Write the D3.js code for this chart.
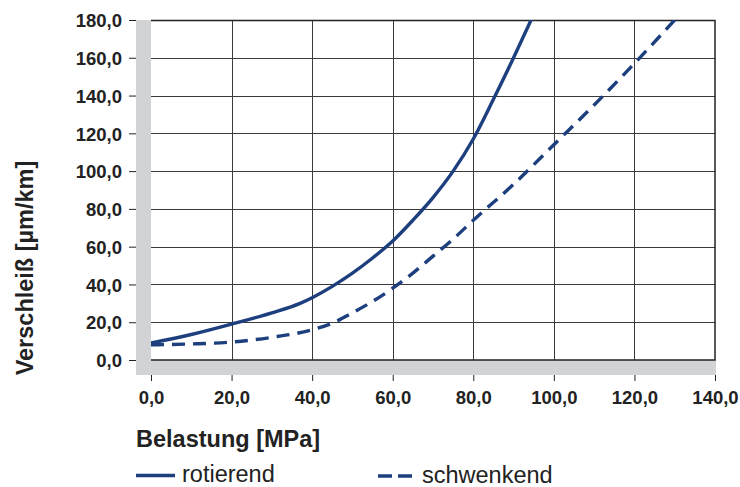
<!DOCTYPE html>
<html>
<head>
<meta charset="utf-8">
<script src="https://cdn.jsdelivr.net/npm/d3@7"></script>
<style>
  body { margin: 0; background: #fff; }
  text { font-family: "Liberation Sans", Arial, sans-serif; fill: #222; }
</style>
</head>
<body>
<div id="chart"></div>
<script>
///data
var xTicks = [0, 20, 40, 60, 80, 100, 120, 140];
var yTicks = [0, 20, 40, 60, 80, 100, 120, 140, 160, 180];

var rotLoad = [0, 10, 20, 30, 37, 40, 45, 50, 55, 60, 65, 70, 75, 80, 85, 90, 95];
var rotWear = [9, 13.5, 19, 25, 30, 33, 39, 46, 54, 63, 74, 86, 100, 117, 138, 160, 183];

var swLoad = [0, 10, 20, 30, 40, 45, 50, 55, 60, 65, 70, 75, 80, 90, 100, 110, 120, 130];
var swWear = [8, 8.5, 9.5, 12, 16, 19.5, 25, 31, 38, 46, 55, 64, 74, 93, 114, 135, 157, 180];

///sizes
var width = 740, height = 487;
var pLeft = 151, pRight = 715, pTop = 20, pBottom = 360, band = 15;
var navy = '#1d3f7e';

var x = d3.scaleLinear().domain([0, 140]).range([pLeft, pRight]);
var y = d3.scaleLinear().domain([0, 180]).range([pBottom, pTop]);

var svg = d3.select('#chart').append('svg')
    .attr('width', width)
    .attr('height', height);

svg.append('clipPath').attr('id', 'plotClip')
  .append('rect')
    .attr('x', pLeft).attr('y', pTop)
    .attr('width', pRight - pLeft).attr('height', pBottom - pTop);

///gray L band
svg.append('rect')
    .attr('x', pLeft - band).attr('y', pTop)
    .attr('width', band).attr('height', pBottom - pTop + band)
    .attr('fill', '#d2d3d5');
svg.append('rect')
    .attr('x', pLeft - band).attr('y', pBottom)
    .attr('width', pRight - pLeft + band + 1).attr('height', band)
    .attr('fill', '#d2d3d5');

///grid
svg.append('g').selectAll('line')
  .data(xTicks.slice(1, -1))
  .join('line')
    .attr('x1', d => Math.round(x(d)) + 0.5).attr('x2', d => Math.round(x(d)) + 0.5)
    .attr('y1', pTop).attr('y2', pBottom)
    .attr('stroke', '#3a3a3a').attr('stroke-width', 1);

svg.append('g').selectAll('line')
  .data(yTicks.slice(1))
  .join('line')
    .attr('x1', pLeft).attr('x2', pRight)
    .attr('y1', d => Math.round(y(d)) + 0.5).attr('y2', d => Math.round(y(d)) + 0.5)
    .attr('stroke', '#3a3a3a').attr('stroke-width', 1);

///frame: top, right, bottom
svg.append('path')
    .attr('d', `M${pLeft},${pTop + 0.5}H${pRight}V${pBottom}H${pLeft}`)
    .attr('fill', 'none')
    .attr('stroke', '#222').attr('stroke-width', 1.5);

///axes
var fmt = d => d3.format('.1f')(d).replace('.', ',');

var xAxis = svg.append('g')
    .attr('transform', `translate(0,${pBottom + band})`)
    .call(d3.axisBottom(x).tickValues(xTicks).tickFormat(fmt).tickSize(6).tickPadding(12));
xAxis.select('.domain').remove();

var yAxis = svg.append('g')
    .attr('transform', `translate(${pLeft - band},0)`)
    .call(d3.axisLeft(y).tickValues(yTicks).tickFormat(fmt).tickSize(7).tickPadding(7));
yAxis.select('.domain').remove();

svg.selectAll('.tick line').attr('stroke', '#222');
svg.selectAll('.tick text')
    .style('font-family', '"Liberation Sans", Arial, sans-serif')
    .style('font-size', '18.5px')
    .style('font-weight', 'bold')
    .attr('fill', '#222');
yAxis.selectAll('.tick text').attr('dy', '0.36em');
xAxis.selectAll('.tick text').attr('dy', '0.62em');

///lines
var line = d3.line()
    .x(d => x(d[0]))
    .y(d => y(d[1]))
    .curve(d3.curveMonotoneX);

var plot = svg.append('g').attr('clip-path', 'url(#plotClip)');

plot.append('path')
    .datum(swLoad.map((v, i) => [v, swWear[i]]))
    .attr('d', line)
    .attr('fill', 'none')
    .attr('stroke', navy).attr('stroke-width', 3.4)
    .attr('stroke-dasharray', '13,8');

plot.append('path')
    .datum(rotLoad.map((v, i) => [v, rotWear[i]]))
    .attr('d', line)
    .attr('fill', 'none')
    .attr('stroke', navy).attr('stroke-width', 3.4);

///titles
svg.append('text')
    .attr('x', 136).attr('y', 447)
    .style('font-size', '23.5px').style('font-weight', 'bold')
    .text('Belastung [MPa]');

svg.append('text')
    .attr('transform', 'translate(33,268) rotate(-90)')
    .attr('text-anchor', 'middle')
    .style('font-size', '23.5px').style('font-weight', 'bold')
    .text('Verschleiß [µm/km]');

///legend
var legend = svg.append('g');
legend.append('line')
    .attr('x1', 136).attr('x2', 175).attr('y1', 475.5).attr('y2', 475.5)
    .attr('stroke', navy).attr('stroke-width', 3.4);
legend.append('text')
    .attr('x', 182).attr('y', 482)
    .style('font-size', '23.5px').attr('fill', '#333')
    .text('rotierend');
legend.append('line')
    .attr('x1', 378).attr('x2', 412).attr('y1', 476).attr('y2', 476)
    .attr('stroke', navy).attr('stroke-width', 3.4)
    .attr('stroke-dasharray', '14,6');
legend.append('text')
    .attr('x', 422).attr('y', 483)
    .style('font-size', '23.5px').attr('fill', '#333')
    .text('schwenkend');
</script>
</body>
</html>
